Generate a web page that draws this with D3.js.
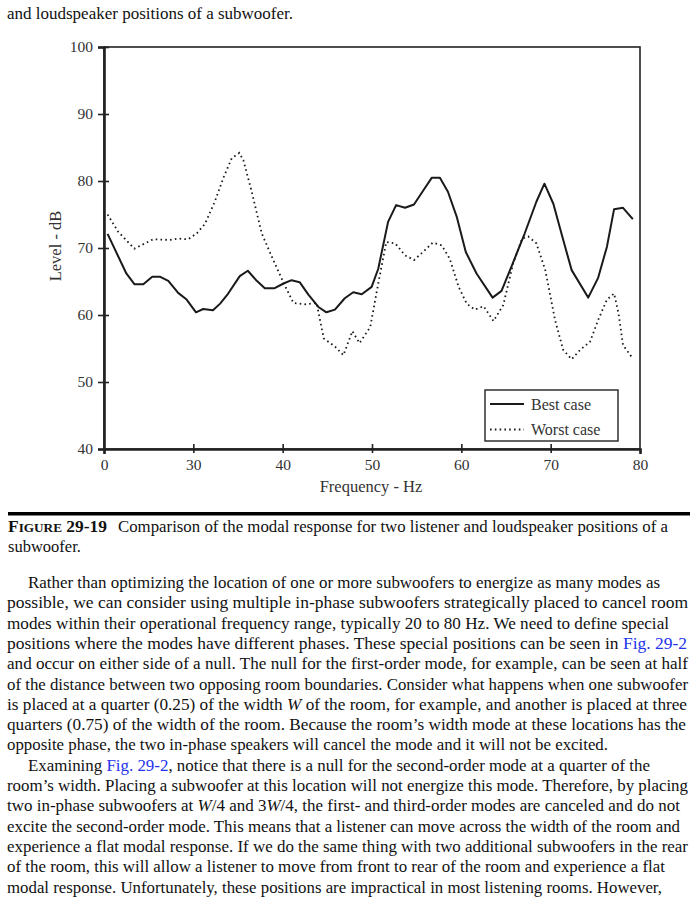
<!DOCTYPE html>
<html><head><meta charset="utf-8">
<script src="https://cdn.jsdelivr.net/npm/d3@7"></script>
<style>
html,body{margin:0;padding:0;background:#fff;}
svg{display:block;}
</style></head>
<body>
<svg id="c" width="695" height="900"></svg>
<script>
// ---------- data ----------
const bestFreq  = [20.4,22.5,23.4,24.4,25.4,26.3,27.2,28.3,29.25,30.3,31.1,32.2,33.0,33.9,35.2,36.1,37.1,38.0,39.1,40.1,41.0,41.9,42.9,44.0,44.9,45.85,46.95,47.9,48.85,49.96,50.7,51.8,52.7,53.7,54.7,55.7,56.7,57.6,58.5,59.5,60.5,61.7,63.5,64.5,65.6,67.1,68.4,69.3,70.3,71.3,72.35,74.2,75.3,76.3,77.1,78.1,79.2];
const bestLevel = [72.1,66.2,64.6,64.6,65.7,65.7,65.1,63.3,62.3,60.4,60.9,60.7,61.7,63.2,65.8,66.6,65.1,64.0,64.0,64.7,65.2,64.9,63.0,61.2,60.4,60.8,62.5,63.4,63.1,64.2,66.9,73.9,76.4,76.0,76.5,78.5,80.5,80.5,78.4,74.6,69.4,66.2,62.6,63.6,67.2,72.2,76.9,79.6,76.6,71.7,66.7,62.6,65.5,70.2,75.8,76.0,74.3];
const worstFreq  = [20.4,21.6,23.4,25.5,27.4,28.3,29.4,30.4,31.3,32.4,33.4,34.3,35.15,35.6,36.5,37.65,38.95,40.1,41.2,42.5,43.8,44.6,45.85,46.8,47.8,48.6,49.8,50.7,51.6,52.6,53.7,54.7,55.7,56.8,57.8,58.7,59.7,60.6,61.5,62.5,63.6,64.7,65.8,66.8,67.5,68.4,69.4,70.5,71.4,72.35,73.3,74.4,75.3,76.3,77.1,77.6,78.1,79.2];
const worstLevel = [75.0,72.4,69.9,71.3,71.2,71.4,71.3,72.2,73.6,76.9,80.6,83.4,84.2,83.1,78.6,72.2,68.2,64.8,61.8,61.6,61.8,56.5,55.3,54.0,57.6,55.8,58.2,64.7,70.9,70.7,68.9,68.2,69.4,70.8,70.4,68.4,64.2,61.7,60.8,61.3,59.1,61.5,67.7,71.4,71.7,70.7,66.7,59.2,54.8,53.4,54.8,56.0,59.2,62.3,63.2,60.2,55.5,53.5];
const xTickValues = [20,30,40,50,60,70,80];
const xTickLabels = ["0","30","40","50","60","70","80"];
const yTickValues = [40,50,60,70,80,90,100];
const seriesNames = ["Best case","Worst case"];
const xTitle = "Frequency - Hz";
const yTitle = "Level - dB";

const topLine = "and loudspeaker positions of a subwoofer.";
const captionLabel = ["F","IGURE"," 29-19"];
const captionLines = ["Comparison of the modal response for two listener and loudspeaker positions of a","subwoofer."];
// body lines: segments [text, kind]  n=normal, i=italic, b=link
const bodyLines = [
 [["Rather than optimizing the location of one or more subwoofers to energize as many modes as","n"]],
 [["possible, we can consider using multiple in-phase subwoofers strategically placed to cancel room","n"]],
 [["modes within their operational frequency range, typically 20 to 80 Hz. We need to define special","n"]],
 [["positions where the modes have different phases. These special positions can be seen in ","n"],["Fig. 29-2","b"]],
 [["and occur on either side of a null. The null for the first-order mode, for example, can be seen at half","n"]],
 [["of the distance between two opposing room boundaries. Consider what happens when one subwoofer","n"]],
 [["is placed at a quarter (0.25) of the width ","n"],["W","i"],[" of the room, for example, and another is placed at three","n"]],
 [["quarters (0.75) of the width of the room. Because the room\u2019s width mode at these locations has the","n"]],
 [["opposite phase, the two in-phase speakers will cancel the mode and it will not be excited.","n"]],
 [["Examining ","n"],["Fig. 29-2","b"],[", notice that there is a null for the second-order mode at a quarter of the","n"]],
 [["room\u2019s width. Placing a subwoofer at this location will not energize this mode. Therefore, by placing","n"]],
 [["two in-phase subwoofers at ","n"],["W","i"],["/4 and 3","n"],["W","i"],["/4, the first- and third-order modes are canceled and do not","n"]],
 [["excite the second-order mode. This means that a listener can move across the width of the room and","n"]],
 [["experience a flat modal response. If we do the same thing with two additional subwoofers in the rear","n"]],
 [["of the room, this will allow a listener to move from front to rear of the room and experience a flat","n"]],
 [["modal response. Unfortunately, these positions are impractical in most listening rooms. However,","n"]]
];
const indentLines = [0,9];
// layout: right edge of each printed body line (px)
const bodyLineEnds = [660,688,669,687,688,688,687,686,608,650,688,680,680,688,665,662];

// ---------- layout ----------
const svg = d3.select("#c");
const serif = "'Liberation Serif','Times New Roman',serif";
const ink = "#111";
const L = 104, R = 640, T = 47, B = 449;
const x = d3.scaleLinear().domain([20,80]).range([L,R]);
const y = d3.scaleLinear().domain([40,100]).range([B,T]);

// top text line
svg.append("text").attr("x",7).attr("y",19).attr("font-family",serif).attr("font-size",16.5).attr("fill",ink)
  .attr("textLength",286).attr("lengthAdjust","spacingAndGlyphs").text(topLine);

// frame
svg.append("rect").attr("x",L).attr("y",T).attr("width",R-L).attr("height",B-T)
  .attr("fill","none").attr("stroke","#222").attr("stroke-width",1.6);

// axes
const gx = svg.append("g").attr("transform",`translate(0,${B})`)
  .call(d3.axisBottom(x).tickValues(xTickValues).tickFormat((d,i)=>xTickLabels[i]).tickSize(5).tickPadding(5));
const gy = svg.append("g").attr("transform",`translate(${L},0)`)
  .call(d3.axisLeft(y).tickValues(yTickValues).tickSize(6).tickPadding(5));
[gx,gy].forEach(g=>{
  g.select(".domain").attr("stroke","#222").attr("stroke-width",2.6);
  g.selectAll(".tick line").attr("stroke","#222").attr("stroke-width",1.6);
  g.selectAll(".tick text").attr("font-family",serif).attr("font-size",15.5).attr("fill","#333");
});
// ticks crossing inward
gx.selectAll(".tick line").attr("y1",-5).attr("y2",4);
gy.selectAll(".tick line").attr("x1",-6).attr("x2",5);
gx.selectAll(".tick").filter(d=>d===20||d===80).select("line").attr("y1",0);
gy.selectAll(".tick").filter(d=>d===40).select("line").attr("x2",0);

// axis titles
svg.append("text").attr("x",371).attr("y",492).attr("text-anchor","middle")
  .attr("font-family",serif).attr("font-size",16.5).attr("fill","#333").text(xTitle);
svg.append("text").attr("transform","translate(61,246) rotate(-90)").attr("text-anchor","middle")
  .attr("font-family",serif).attr("font-size",16.5).attr("fill","#333").text(yTitle);

// lines
const line = d3.line().x(d=>x(d[0])).y(d=>y(d[1]));
const best = bestFreq.map((f,i)=>[f,bestLevel[i]]);
const worst = worstFreq.map((f,i)=>[f,worstLevel[i]]);
svg.append("path").datum(best).attr("d",line).attr("fill","none").attr("stroke","#1a1a1a").attr("stroke-width",2).attr("stroke-linejoin","round");
svg.append("path").datum(worst).attr("d",line).attr("fill","none").attr("stroke","#1a1a1a").attr("stroke-width",1.8).attr("stroke-dasharray","1.6,3.2");

// legend
const lg = svg.append("g");
lg.append("rect").attr("x",485).attr("y",390).attr("width",133).attr("height",51).attr("fill","#fff").attr("stroke","#222").attr("stroke-width",1.4);
lg.append("line").attr("x1",490).attr("x2",524).attr("y1",404).attr("y2",404).attr("stroke","#1a1a1a").attr("stroke-width",2);
lg.append("line").attr("x1",490).attr("x2",524).attr("y1",429.5).attr("y2",429.5).attr("stroke","#1a1a1a").attr("stroke-width",1.8).attr("stroke-dasharray","1.6,3.2");
lg.append("text").attr("x",531).attr("y",409.5).attr("font-family",serif).attr("font-size",16).attr("fill","#333").text(seriesNames[0]);
lg.append("text").attr("x",531).attr("y",434.5).attr("font-family",serif).attr("font-size",16).attr("fill","#333").text(seriesNames[1]);

// rule + caption
svg.append("rect").attr("x",8).attr("y",512).attr("width",682).attr("height",3.5).attr("fill","#000");
const capLab = svg.append("text").attr("x",8).attr("y",532).attr("font-family",serif).attr("font-size",16.5).attr("fill",ink)
  .attr("font-weight","bold").attr("textLength",99).attr("lengthAdjust","spacingAndGlyphs");
capLab.append("tspan").text(captionLabel[0]);
capLab.append("tspan").attr("font-size",12.5).text(captionLabel[1]);
capLab.append("tspan").text(captionLabel[2]);
svg.append("text").attr("x",118).attr("y",532).attr("font-family",serif).attr("font-size",16.5).attr("fill",ink)
  .attr("textLength",550).attr("lengthAdjust","spacingAndGlyphs").text(captionLines[0]);
svg.append("text").attr("x",8).attr("y",552).attr("font-family",serif).attr("font-size",16.5).attr("fill",ink).text(captionLines[1]);

// body
const y0 = 588, lh = 20.3;
bodyLines.forEach((segs,i)=>{
  const x0 = indentLines.includes(i)?28:7;
  const t = svg.append("text").attr("x",x0).attr("y",y0+i*lh)
    .attr("font-family",serif).attr("font-size",16.5).attr("fill",ink)
    .attr("textLength",bodyLineEnds[i]-x0).attr("lengthAdjust","spacingAndGlyphs");
  segs.forEach(s=>{
    const ts = t.append("tspan").text(s[0]);
    if(s[1]==="i") ts.attr("font-style","italic");
    if(s[1]==="b") ts.attr("fill","#2233ee");
  });
});
</script>
</body></html>
